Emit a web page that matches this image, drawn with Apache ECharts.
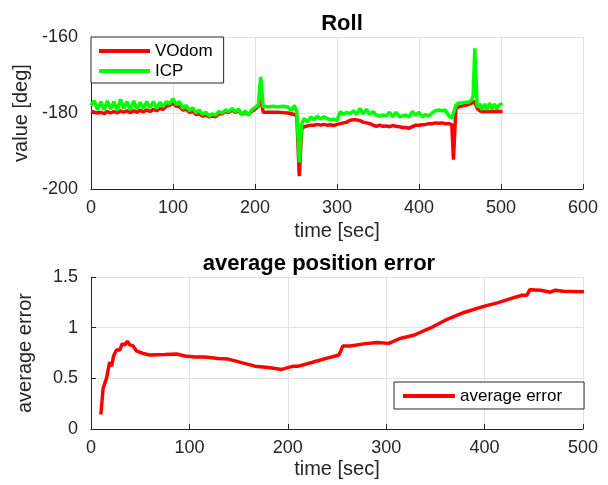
<!DOCTYPE html>
<html>
<head>
<meta charset="utf-8">
<script src="https://cdn.jsdelivr.net/npm/echarts@6/dist/echarts.min.js"></script>
<style>
  html, body { margin: 0; padding: 0; background: #fff; }
  #chart { width: 608px; height: 485px; }
</style>
</head>
<body>
<div id="chart"></div>
<script>
// Roll angle over time for visual odometry and ICP [sec, deg]
const rollTime = [0,4,8,12,16,20,24,28,32,36,40,44,48,52,56,60,64,68,72,76,80,84,88,92,96,100,
  104,108,112,116,120,124,128,132,136,140,144,148,152,156,160,164,168,172,176,180,184,188,192,196,
  200,204,207,210,216,222,228,234,240,244,248,251,254,257,260,264,268,272,276,280,284,288,292,296,
  300,304,308,312,316,320,324,328,332,336,340,344,348,352,356,360,364,368,372,376,380,384,388,392,
  396,400,404,408,412,416,420,424,428,432,436,440,442,445,448,452,456,460,464,466,468,471,474,477,
  480,483,486,489,492,495,498,502];
const vodomRoll = [-179.6,-179.8,-180.0,-179.8,-180.2,-179.6,-180.0,-179.6,-180.0,-179.4,-179.8,-179.4,
  -179.9,-179.4,-179.8,-179.3,-179.7,-179.2,-179.6,-179.1,-179.4,-178.8,-179.0,-178.2,-178.0,-177.4,
  -178.2,-178.4,-179.2,-179.0,-179.8,-179.6,-180.4,-180.2,-180.8,-180.6,-181.0,-180.8,-181.0,-180.2,
  -180.2,-179.6,-179.8,-179.2,-179.8,-179.4,-180.4,-180.0,-180.4,-179.6,
  -179.0,-178.2,-176.0,-179.8,-179.8,-179.8,-179.8,-179.9,-180.0,-180.2,-180.4,-180.8,-196.6,-184.2,
  -183.6,-183.4,-183.2,-183.2,-183.0,-183.2,-183.0,-183.2,-183.1,-183.3,
  -183.0,-182.8,-182.6,-182.4,-181.9,-181.8,-181.8,-182.0,-182.4,-182.6,-182.8,-183.2,-183.5,-183.2,
  -183.5,-183.4,-183.6,-183.3,-183.5,-183.6,-183.8,-183.8,-184.0,-183.6,
  -183.2,-183.2,-183.1,-183.0,-182.8,-182.8,-182.6,-182.7,-182.6,-182.8,-182.8,-183.0,-192.3,-178.8,
  -178.4,-178.2,-178.0,-177.8,-177.4,-177.0,-177.0,-178.8,-179.4,-179.6,
  -179.6,-179.6,-179.6,-179.6,-179.6,-179.6,-179.6,-179.6];
const icpRoll = [-178.0,-176.8,-179.2,-177.0,-179.2,-176.8,-179.0,-177.0,-179.4,-176.4,-178.8,-177.0,
  -179.2,-176.8,-179.0,-177.2,-178.8,-177.0,-178.6,-177.0,-178.8,-177.2,-178.4,-177.0,-177.6,-176.2,
  -177.8,-177.0,-178.8,-178.0,-179.4,-178.6,-180.0,-179.2,-180.4,-179.8,-180.8,-180.2,-180.6,-179.6,
  -180.0,-179.2,-179.6,-178.8,-179.6,-179.0,-180.6,-179.4,-180.6,-179.2,
  -178.6,-177.8,-170.5,-178.3,-178.4,-178.2,-178.4,-178.2,-178.4,-179.4,-178.0,-179.6,-193.0,-183.0,
  -181.4,-182.4,-181.0,-181.8,-180.8,-181.6,-181.0,-181.4,-181.8,-181.6,
  -182.0,-179.6,-180.4,-179.8,-180.2,-179.4,-180.4,-178.8,-180.2,-179.0,-180.4,-179.6,-180.6,-180.8,
  -180.6,-180.8,-179.8,-181.0,-179.8,-181.0,-180.8,-180.6,-181.0,-179.6,
  -180.6,-179.8,-181.0,-180.4,-180.8,-180.0,-179.4,-179.2,-179.4,-179.2,-180.6,-181.4,-181.6,-178.0,
  -177.4,-177.4,-177.2,-177.2,-176.6,-175.6,-163.0,-178.4,-177.6,-179.2,
  -177.6,-179.2,-177.4,-179.0,-177.6,-179.0,-177.8,-177.6];

// Running average of the position error
const errTime = [10,12.3,15.7,19,21,23,25.9,29.3,31.6,34.3,37,39.4,42.8,46.2,53,59.8,75,87,95.4,105.6,
  115.8,129.3,139.5,153,166.7,180,193.9,205.7,210.8,224.4,238,248.2,252,256,263.5,277,290.6,302.5,
  314,328,345,362,379,399,413,426.4,438,443,446,457,467,472,480,501];
const avgError = [0.145,0.40,0.50,0.66,0.62,0.72,0.78,0.78,0.84,0.83,0.866,0.83,0.82,0.77,0.745,0.73,
  0.735,0.74,0.72,0.71,0.71,0.695,0.69,0.655,0.62,0.607,0.588,0.62,0.62,0.656,0.695,0.72,0.73,0.82,
  0.82,0.84,0.853,0.845,0.893,0.925,0.997,1.083,1.15,1.21,1.245,1.286,1.32,1.32,1.375,1.37,1.35,
  1.37,1.36,1.355];

const FONT = '"Liberation Sans", Arial, Helvetica, sans-serif';
const INK = '#262626';
const GRIDC = '#e3e3e3';
const LINE_W = 3.5;

function pairs(xs, ys) { return xs.map((x, i) => [x, ys[i]]); }

function xAxisCfg(gridIndex, max, gap) {
  return {
    type: 'value', gridIndex, min: 0, max, interval: 100,
    name: 'time [sec]', nameLocation: 'middle', nameGap: gap,
    nameTextStyle: { fontFamily: FONT, fontSize: 20, color: INK },
    axisLine: { show: true, onZero: false, lineStyle: { color: INK, width: 1 } },
    axisTick: { show: true, inside: true, length: 5, lineStyle: { color: INK } },
    axisLabel: { fontFamily: FONT, fontSize: 18, color: INK, margin: 10 },
    splitLine: { show: true, lineStyle: { color: GRIDC, width: 1 } }
  };
}
function yAxisCfg(gridIndex, min, max, interval, name) {
  return {
    type: 'value', gridIndex, min, max, interval,
    name, nameLocation: 'middle', nameGap: 56,
    nameTextStyle: { fontFamily: FONT, fontSize: 20, color: INK },
    axisLine: { show: true, onZero: false, lineStyle: { color: INK, width: 1 } },
    axisTick: { show: true, inside: true, length: 5, lineStyle: { color: INK } },
    axisLabel: { fontFamily: FONT, fontSize: 18, color: INK, margin: 13 },
    splitLine: { show: true, lineStyle: { color: GRIDC, width: 1 } }
  };
}

const legendText = { fontFamily: FONT, fontSize: 17, color: '#000', lineHeight: 20 };

const chart = echarts.init(document.getElementById('chart'), null, { renderer: 'canvas' });
chart.setOption({
  animation: false,
  backgroundColor: '#fff',
  title: [
    { text: 'Roll', left: 337, top: 8, textAlign: 'center',
      textStyle: { fontFamily: FONT, fontSize: 22, fontWeight: 'bold', color: '#000' } },
    { text: 'average position error', left: 314, top: 248, textAlign: 'center',
      textStyle: { fontFamily: FONT, fontSize: 22, fontWeight: 'bold', color: '#000' } }
  ],
  grid: [
    { left: 91, right: 25, top: 37, height: 152 },
    { left: 91, right: 25, top: 277, height: 152 }
  ],
  legend: [
    { data: ['VOdom', 'ICP'], orient: 'vertical', left: 91, top: 37,
      padding: [4, 11, 2, 8], itemGap: 0, itemWidth: 51, itemHeight: 4, icon: 'rect',
      backgroundColor: '#fff', borderColor: INK, borderWidth: 1, borderRadius: 0,
      textStyle: legendText },
    { data: ['average error'], orient: 'vertical', left: 394, top: 382,
      padding: [4, 22, 3, 9], itemGap: 0, itemWidth: 52, itemHeight: 4, icon: 'rect',
      backgroundColor: '#fff', borderColor: INK, borderWidth: 1, borderRadius: 0,
      textStyle: legendText }
  ],
  xAxis: [ xAxisCfg(0, 600, 32), xAxisCfg(1, 500, 30) ],
  yAxis: [
    yAxisCfg(0, -200, -160, 20, 'value [deg]'),
    yAxisCfg(1, 0, 1.5, 0.5, 'average error')
  ],
  series: [
    { name: 'VOdom', type: 'line', xAxisIndex: 0, yAxisIndex: 0, showSymbol: false,
      data: pairs(rollTime, vodomRoll), itemStyle: { color: '#ff0000' },
      lineStyle: { color: '#ff0000', width: LINE_W } },
    { name: 'ICP', type: 'line', xAxisIndex: 0, yAxisIndex: 0, showSymbol: false,
      data: pairs(rollTime, icpRoll), itemStyle: { color: '#00ff00' },
      lineStyle: { color: '#00ff00', width: LINE_W } },
    { name: 'average error', type: 'line', xAxisIndex: 1, yAxisIndex: 1, showSymbol: false,
      data: pairs(errTime, avgError), itemStyle: { color: '#ff0000' },
      lineStyle: { color: '#ff0000', width: LINE_W } }
  ]
});
</script>
</body>
</html>
